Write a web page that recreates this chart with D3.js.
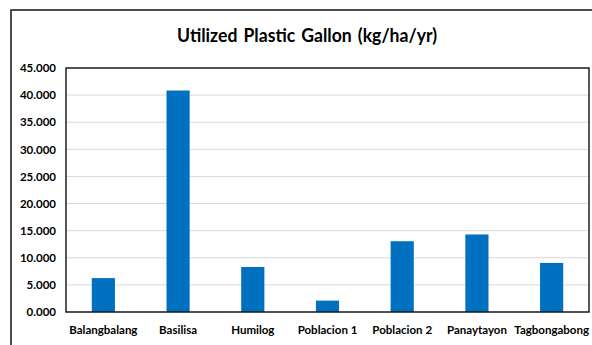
<!DOCTYPE html>
<html>
<head>
<meta charset="utf-8">
<script src="https://cdn.jsdelivr.net/npm/d3@7"></script>
<style>
  html, body { margin: 0; padding: 0; background: #fff; }
  svg { display: block; }
  text { font-family: Lato, "Open Sans", sans-serif; font-weight: bold; fill: #000; }
</style>
</head>
<body>
<svg id="chart" width="592" height="345"></svg>
<script>
const categories = ["Balangbalang", "Basilisa", "Humilog", "Poblacion 1", "Poblacion 2", "Panaytayon", "Tagbongabong"];
const values = [6250, 40850, 8300, 2100, 13050, 14300, 9050];
const yTicks = [0, 5000, 10000, 15000, 20000, 25000, 30000, 35000, 40000, 45000];
const title = "Utilized Plastic Gallon (kg/ha/yr)";

const svg = d3.select("#chart");
const plot = { left: 66, right: 589, top: 68, bottom: 312 };

// outer frame (extends beyond the viewport on right and bottom)
svg.append("rect")
  .attr("x", 11).attr("y", 10)
  .attr("width", 600).attr("height", 360)
  .attr("fill", "#fff").attr("stroke", "#222").attr("stroke-width", 1.6);

svg.append("text")
  .attr("x", 177).attr("y", 41.5)
  .attr("font-size", 19.5)
  .attr("word-spacing", 2)
  .attr("textLength", 260)
  .attr("lengthAdjust", "spacingAndGlyphs")
  .text(title);

const x = d3.scaleBand().domain(categories).range([plot.left, plot.right]).paddingInner(0.69).paddingOuter(0.345);
const y = d3.scaleLinear().domain([0, 45000]).range([plot.bottom, plot.top]);

// gridlines
svg.append("g").selectAll("line").data(yTicks).join("line")
  .attr("x1", plot.left).attr("x2", plot.right)
  .attr("y1", d => y(d)).attr("y2", d => y(d))
  .attr("stroke", "#d9d9d9").attr("stroke-width", 1);

// bars
svg.append("g").selectAll("rect").data(values).join("rect")
  .attr("x", (d, i) => x(categories[i]))
  .attr("y", d => y(d))
  .attr("width", x.bandwidth())
  .attr("height", d => y(0) - y(d))
  .attr("fill", "#0070c0");

// plot border
svg.append("rect")
  .attr("x", plot.left).attr("y", plot.top)
  .attr("width", plot.right - plot.left).attr("height", plot.bottom - plot.top)
  .attr("fill", "none").attr("stroke", "#111").attr("stroke-width", 1.4);

// y axis
const fmt = d => d3.format(",.3f")(d / 1000).replace(",", "");
const yAxis = svg.append("g").attr("transform", `translate(${plot.left},0)`)
  .call(d3.axisLeft(y).tickValues(yTicks).tickSize(0).tickPadding(10).tickFormat(fmt));
yAxis.select(".domain").remove();
yAxis.selectAll("text").attr("font-size", 11.5).style("font-family", "Lato, sans-serif").style("font-weight", "bold").attr("fill", "#000");

// x axis
const xAxis = svg.append("g").attr("transform", `translate(0,${plot.bottom})`)
  .call(d3.axisBottom(x).tickSize(0).tickPadding(14));
xAxis.select(".domain").remove();
xAxis.selectAll("text").attr("font-size", 11.5).style("font-family", "Lato, sans-serif").style("font-weight", "bold").attr("fill", "#000");
</script>
</body>
</html>
